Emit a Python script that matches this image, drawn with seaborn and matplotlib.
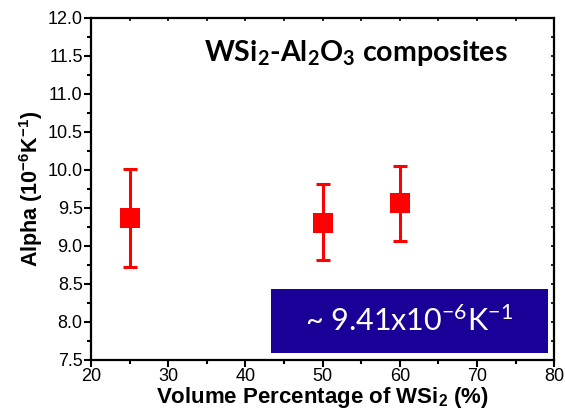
import matplotlib
matplotlib.use("Agg")
import matplotlib.pyplot as plt
from matplotlib.patches import Rectangle
from matplotlib.ticker import FormatStrFormatter, MultipleLocator
import pandas as pd
import seaborn as sns

# WSi2 volume percentage, mean alpha and error bounds (10^-6 K^-1)
vol_pct = [25, 50, 60]
alpha = [9.37, 9.30, 9.56]
alpha_hi = [10.01, 9.81, 10.05]
alpha_lo = [8.72, 8.81, 9.07]

df = pd.DataFrame({"vol": vol_pct, "alpha": alpha, "hi": alpha_hi, "lo": alpha_lo})
err = [df["alpha"] - df["lo"], df["hi"] - df["alpha"]]

sns.set_theme(style="ticks")
plt.rcParams["font.family"] = ["Liberation Sans", "DejaVu Sans"]
plt.rcParams.update({
    "text.color": "black",
    "axes.labelcolor": "black",
    "xtick.color": "black",
    "ytick.color": "black",
    # mathtext: rm/bf -> Lato (annotation text), sf -> Arial-like bold (axis labels)
    "mathtext.fontset": "custom",
    "mathtext.rm": "Lato",
    "mathtext.bf": "Lato:bold",
    "mathtext.it": "Lato:italic",
    "mathtext.sf": "Liberation Sans:bold",
})

fig = plt.figure(figsize=(5.65, 4.17), dpi=100)
ax = fig.add_axes([0.161, 0.137, 0.820, 0.820])

ax.errorbar(df["vol"], df["alpha"], yerr=err, fmt="none", ecolor="red",
            elinewidth=2.2, capsize=4.8, capthick=2.2, zorder=2)
sns.scatterplot(data=df, x="vol", y="alpha", marker="s", s=210, color="red",
                edgecolor="red", linewidth=0, ax=ax, zorder=3)

ax.set_xlim(20, 80)
ax.set_ylim(7.5, 12.0)
ax.xaxis.set_major_locator(MultipleLocator(10))
ax.xaxis.set_minor_locator(MultipleLocator(5))
ax.yaxis.set_major_locator(MultipleLocator(0.5))
ax.yaxis.set_minor_locator(MultipleLocator(0.25))
ax.yaxis.set_major_formatter(FormatStrFormatter("%.1f"))

for sp in ax.spines.values():
    sp.set_linewidth(1.6)
    sp.set_color("black")
ax.tick_params(which="major", direction="out", length=5, width=1.5,
               labelsize=13, pad=1)
ax.tick_params(which="minor", direction="out", length=3, width=1.5)

# mirrored tiny inward ticks on top and right
top = ax.secondary_xaxis("top")
top.xaxis.set_major_locator(MultipleLocator(5))
top.tick_params(direction="in", length=2, width=1.2, labeltop=False)
right = ax.secondary_yaxis("right")
right.yaxis.set_major_locator(MultipleLocator(0.25))
right.tick_params(direction="in", length=2, width=1.2, labelright=False)

ax.set_xlabel("Volume Percentage of WSi$_{\\mathsf{2}}$ (%)", fontsize=16,
              fontweight="bold", labelpad=0)
ax.set_ylabel("Alpha (10$^{\\mathsf{-6}}$K$^{\\mathsf{-1}}$)", fontsize=15.5,
              fontweight="bold", labelpad=2)

ax.text(0.572, 0.874, "WSi$_\\mathbf{2}$-Al$_\\mathbf{2}$O$_\\mathbf{3}$ composites",
        transform=ax.transAxes, ha="center", va="baseline", fontsize=20.5,
        fontweight="bold", family=["Lato", "DejaVu Sans"])

ax.add_patch(Rectangle((0.389, 0.020), 0.598, 0.188, transform=ax.transAxes,
                       facecolor="#1a0096", edgecolor="none", zorder=4))
ax.text(0.686, 0.114, "~ 9.41x10$^{\\mathrm{-6}}$K$^{\\mathrm{-1}}$",
        transform=ax.transAxes, ha="center", va="center", fontsize=22,
        color="white", family=["Lato", "DejaVu Sans"], zorder=5)

fig.savefig("out.png", dpi=100)
